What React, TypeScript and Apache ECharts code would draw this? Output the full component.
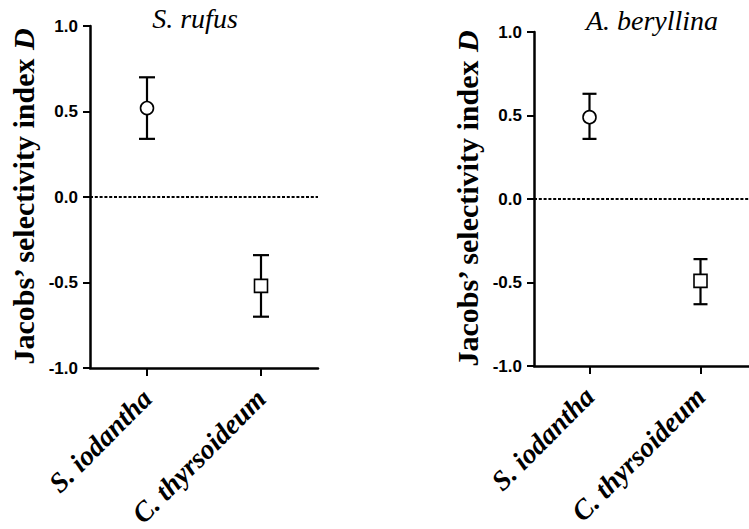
import React, { useEffect, useRef } from "react";
import * as echarts from "echarts";

// Data
const categories = ["S. iodantha", "C. thyrsoideum"];
const panelTitles = ["S. rufus", "A. beryllina"];
const yTicks = [-1.0, -0.5, 0.0, 0.5, 1.0];

const rufusMean = [0.52, -0.52];
const rufusLow = [0.34, -0.70];
const rufusHigh = [0.70, -0.34];

const beryllinaMean = [0.49, -0.49];
const beryllinaLow = [0.36, -0.63];
const beryllinaHigh = [0.63, -0.36];

const markerShapes = ["circle", "rect"];

const SERIF = "Liberation Serif";
const SANS = "Liberation Sans";

function errorBarSeries(gridIdx: number, low: number[], high: number[], cap: number) {
  return {
    type: "custom",
    xAxisIndex: gridIdx,
    yAxisIndex: gridIdx,
    z: 2,
    data: categories.map((_, i) => [i, low[i], high[i]]),
    encode: { x: 0, y: [1, 2] },
    renderItem: (params: any, api: any) => {
      const x = api.value(0);
      const pLo = api.coord([x, api.value(1)]);
      const pHi = api.coord([x, api.value(2)]);
      const h = cap / 2;
      const st = { stroke: "#000", lineWidth: 2.2 };
      return {
        type: "group",
        children: [
          { type: "line", shape: { x1: pLo[0], y1: pLo[1], x2: pHi[0], y2: pHi[1] }, style: st },
          { type: "line", shape: { x1: pLo[0] - h, y1: pLo[1], x2: pLo[0] + h, y2: pLo[1] }, style: st },
          { type: "line", shape: { x1: pHi[0] - h, y1: pHi[1], x2: pHi[0] + h, y2: pHi[1] }, style: st },
        ],
      };
    },
  };
}

function meanSeries(gridIdx: number, mean: number[]) {
  return {
    type: "scatter",
    xAxisIndex: gridIdx,
    yAxisIndex: gridIdx,
    z: 5,
    symbolSize: 13,
    itemStyle: { color: "#fff", borderColor: "#000", borderWidth: 1.6, opacity: 1 },
    data: categories.map((_, i) => ({ value: [i, mean[i]], symbol: markerShapes[i] })),
    markLine: {
      silent: true,
      symbol: "none",
      label: { show: false },
      lineStyle: { color: "#000", type: [3, 1.8], width: 2 },
      data: [{ yAxis: 0 }],
    },
  };
}

function yAxis(gridIdx: number) {
  return {
    type: "value",
    gridIndex: gridIdx,
    min: -1,
    max: 1,
    interval: 0.5,
    name: "{a|Jacobs\u2019 selectivity index }{b|D}",
    nameLocation: "middle",
    nameGap: 52,
    nameTextStyle: {
      fontFamily: SERIF,
      fontWeight: "bold",
      fontSize: 30,
      color: "#000",
      rich: {
        a: { fontFamily: SERIF, fontWeight: "bold", fontSize: 30, color: "#000" },
        b: { fontFamily: SERIF, fontWeight: "bold", fontStyle: "italic", fontSize: 30, color: "#000" },
      },
    },
    axisLine: { show: true, onZero: false, lineStyle: { color: "#000", width: 2.5 } },
    axisTick: { show: true, length: 7, lineStyle: { color: "#000", width: 2 } },
    splitLine: { show: false },
    axisLabel: {
      color: "#000",
      fontFamily: SANS,
      fontWeight: "bold",
      fontSize: 17,
      margin: 12,
      formatter: (v: number) => (yTicks.includes(v) ? v.toFixed(1) : ""),
    },
  };
}

function xAxis(gridIdx: number) {
  return {
    type: "category",
    gridIndex: gridIdx,
    data: categories,
    boundaryGap: true,
    axisLine: { show: true, onZero: false, lineStyle: { color: "#000", width: 2.5 } },
    axisTick: { show: true, alignWithLabel: true, length: 8, lineStyle: { color: "#000", width: 2 } },
    splitLine: { show: false },
    axisLabel: {
      rotate: 45,
      margin: 26,
      color: "#000",
      fontFamily: SERIF,
      fontWeight: "bold",
      fontStyle: "italic",
      fontSize: 28,
      interval: 0,
    },
  };
}

export default function App() {
  const ref = useRef<HTMLDivElement>(null);
  useEffect(() => {
    if (!ref.current) return;
    const chart = echarts.init(ref.current, null, { renderer: "svg" });
    chart.setOption({
      animation: false,
      backgroundColor: "#fff",
      textStyle: { fontFamily: SERIF },
      grid: [
        { left: 90, top: 26, width: 228, height: 342, containLabel: false, outerBoundsMode: "none" },
        { left: 534, top: 32, width: 222, height: 334, containLabel: false, outerBoundsMode: "none" },
      ],
      xAxis: [xAxis(0), xAxis(1)],
      yAxis: [yAxis(0), yAxis(1)],
      graphic: [
        {
          type: "text",
          x: 195,
          y: 18,
          style: {
            text: panelTitles[0],
            fontFamily: SERIF,
            fontStyle: "italic",
            fontSize: 28,
            fill: "#000",
            textAlign: "center",
            textVerticalAlign: "middle",
          },
        },
        {
          type: "text",
          x: 652,
          y: 20,
          style: {
            text: panelTitles[1],
            fontFamily: SERIF,
            fontStyle: "italic",
            fontSize: 28,
            fill: "#000",
            textAlign: "center",
            textVerticalAlign: "middle",
          },
        },
      ],
      series: [
        errorBarSeries(0, rufusLow, rufusHigh, 16),
        meanSeries(0, rufusMean),
        errorBarSeries(1, beryllinaLow, beryllinaHigh, 14),
        meanSeries(1, beryllinaMean),
      ],
    });
    return () => chart.dispose();
  }, []);
  return (
    <div
      ref={ref}
      style={{ position: "fixed", left: 0, top: 0, width: 749, height: 529, background: "#fff" }}
    />
  );
}
